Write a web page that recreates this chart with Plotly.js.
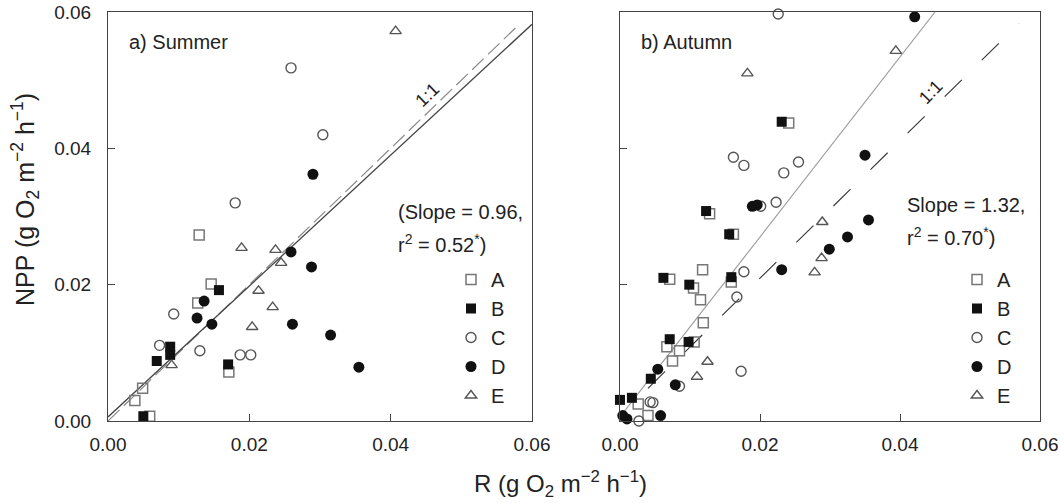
<!DOCTYPE html>
<html>
<head>
<meta charset="utf-8">
<script src="https://cdn.plot.ly/plotly-3.0.1.min.js"></script>
<style>html,body{margin:0;padding:0;background:#fff;}#chart{width:1060px;height:503px;}</style>
</head>
<body>
<div id="chart"></div>
<script>
// ---------- DATA ----------
const tickVals = [0, 0.02, 0.04, 0.06];
const tickLabels = ["0.00", "0.02", "0.04", "0.06"];
const groups = ["A", "B", "C", "D", "E"];

// Summer (panel a)
const sumAx = [0.0129, 0.0146, 0.0127, 0.0171, 0.0049, 0.0038, 0.0059];
const sumAy = [0.0273, 0.0201, 0.0173, 0.0072, 0.0048, 0.0030, 0.0007];
const sumBx = [0.0157, 0.0088, 0.0088, 0.0069, 0.0170, 0.0050];
const sumBy = [0.0192, 0.0109, 0.0097, 0.0088, 0.0083, 0.0007];
const sumCx = [0.0259, 0.0304, 0.0180, 0.0093, 0.0073, 0.0130, 0.0187, 0.0202];
const sumCy = [0.0518, 0.0420, 0.0320, 0.0157, 0.0111, 0.0103, 0.0097, 0.0097];
const sumDx = [0.0290, 0.0259, 0.0288, 0.0136, 0.0126, 0.0147, 0.0261, 0.0315, 0.0355];
const sumDy = [0.0362, 0.0248, 0.0226, 0.0176, 0.0151, 0.0142, 0.0142, 0.0126, 0.0079];
const sumEx = [0.0407, 0.0189, 0.0237, 0.0245, 0.0213, 0.0233, 0.0204, 0.0090];
const sumEy = [0.0572, 0.0254, 0.0251, 0.0232, 0.0191, 0.0167, 0.0138, 0.0082];

// Autumn (panel b)
const autAx = [0.0241, 0.0128, 0.0162, 0.0118, 0.0159, 0.0071, 0.0105, 0.0115, 0.0119, 0.0106, 0.0067, 0.0085, 0.0075, 0.0040, 0.0026];
const autAy = [0.0437, 0.0304, 0.0274, 0.0222, 0.0204, 0.0208, 0.0195, 0.0178, 0.0144, 0.0116, 0.0109, 0.0103, 0.0088, 0.0008, 0.0025];
const autBx = [0.0231, 0.0123, 0.0156, 0.0159, 0.0062, 0.0099, 0.0098, 0.0071, 0.0044, 0.0000, 0.0017];
const autBy = [0.0439, 0.0308, 0.0274, 0.0211, 0.0210, 0.0200, 0.0116, 0.0120, 0.0062, 0.0031, 0.0034];
const autCx = [0.0226, 0.0162, 0.0177, 0.0255, 0.0234, 0.0223, 0.0201, 0.0177, 0.0167, 0.0173, 0.0085, 0.0043, 0.0047, 0.0027];
const autCy = [0.0597, 0.0387, 0.0375, 0.0380, 0.0364, 0.0321, 0.0315, 0.0219, 0.0182, 0.0073, 0.0051, 0.0028, 0.0027, 0.0000];
const autDx = [0.0421, 0.0350, 0.0189, 0.0196, 0.0355, 0.0325, 0.0299, 0.0231, 0.0054, 0.0079, 0.0058, 0.0010, 0.0004];
const autDy = [0.0593, 0.0390, 0.0315, 0.0317, 0.0295, 0.0270, 0.0252, 0.0222, 0.0076, 0.0053, 0.0008, 0.0003, 0.0008];
const autEx = [0.0182, 0.0394, 0.0289, 0.0288, 0.0278, 0.0125, 0.0110];
const autEy = [0.0510, 0.0543, 0.0292, 0.0239, 0.0218, 0.0087, 0.0065];

// Fit and 1:1 line end points
const sumFitX = [0, 0.06];
const sumFitY = [0.0006, 0.0582];
const sumOneX = [0, 0.0578];
const sumOneY = [0, 0.0578];
const autFitX = [0, 0.045];
const autFitY = [0.0006, 0.060];
const autOneX = [0.004, 0.057];
const autOneY = [0.0048, 0.0583];

// ---------- STYLE ----------
const FONT = "Liberation Sans, Arial, Helvetica, sans-serif";
const styles = {
  A: {symbol: "square-open", color: "#777", size: 10, lw: 1.5},
  B: {symbol: "square", color: "#111", size: 10, lw: 0},
  C: {symbol: "circle-open", color: "#555", size: 10, lw: 1.4},
  D: {symbol: "circle", color: "#111", size: 11, lw: 0},
  E: {symbol: "triangle-up-open", color: "#555", size: 10, lw: 1.4}
};

const sumData = {A: [sumAx, sumAy], B: [sumBx, sumBy], C: [sumCx, sumCy], D: [sumDx, sumDy], E: [sumEx, sumEy]};
const autData = {A: [autAx, autAy], B: [autBx, autBy], C: [autCx, autCy], D: [autDx, autDy], E: [autEx, autEy]};

const traces = [];
// lines
traces.push({x: sumOneX, y: sumOneY, xaxis: "x", yaxis: "y", mode: "lines", showlegend: false, hoverinfo: "skip",
  line: {color: "#888", width: 1.2, dash: "16px,6px"}});
traces.push({x: sumFitX, y: sumFitY, xaxis: "x", yaxis: "y", mode: "lines", showlegend: false, hoverinfo: "skip",
  line: {color: "#444", width: 1.3}});
traces.push({x: autFitX, y: autFitY, xaxis: "x2", yaxis: "y2", mode: "lines", showlegend: false, hoverinfo: "skip",
  line: {color: "#999", width: 1.1}});
traces.push({x: autOneX, y: autOneY, xaxis: "x2", yaxis: "y2", mode: "lines", showlegend: false, hoverinfo: "skip",
  line: {color: "#333", width: 1.1, dash: "24px,28px"}});

function addGroup(data, xa, ya, leg) {
  groups.forEach(g => {
    const s = styles[g];
    traces.push({
      x: data[g][0], y: data[g][1], xaxis: xa, yaxis: ya, name: g, legend: leg,
      mode: "markers", type: "scatter", cliponaxis: false,
      marker: {symbol: s.symbol, size: s.size, color: s.color, line: {color: s.color, width: s.lw}}
    });
  });
}
addGroup(sumData, "x", "y", "legend");
addGroup(autData, "x2", "y2", "legend2");

const axBase = {
  range: [0, 0.06], tickvals: tickVals, ticktext: tickLabels, ticks: "inside", ticklen: 7,
  tickcolor: "#444", showline: true, mirror: true, linecolor: "#444", linewidth: 1,
  showgrid: false, zeroline: false, tickfont: {family: FONT, size: 19, color: "#222"}
};
const yDom = [82 / 503, 491 / 503];

const legBase = {
  font: {family: FONT, size: 20, color: "#222"}, bgcolor: "rgba(0,0,0,0)",
  xanchor: "left", yanchor: "top", itemclick: false, tracegroupgap: 0
};

const annFont = {family: FONT, size: 20, color: "#222"};
const layout = {
  width: 1060, height: 503,
  margin: {l: 0, r: 0, t: 0, b: 0},
  paper_bgcolor: "#fff", plot_bgcolor: "#fff",
  xaxis: Object.assign({}, axBase, {domain: [108 / 1060, 532 / 1060], anchor: "y", ticklabelstandoff: 6}),
  yaxis: Object.assign({}, axBase, {domain: yDom, anchor: "x", ticklabelstandoff: 12}),
  xaxis2: Object.assign({}, axBase, {domain: [620 / 1060, 1040 / 1060], anchor: "y2", ticklabelstandoff: 6}),
  yaxis2: Object.assign({}, axBase, {domain: yDom, anchor: "x2", showticklabels: false}),
  legend: Object.assign({}, legBase, {x: 451 / 1060, y: (503 - 260) / 503}),
  legend2: Object.assign({}, legBase, {x: 957 / 1060, y: (503 - 260) / 503}),
  annotations: [
    {xref: "x", yref: "y", x: 0.0027, y: 0.0556, text: "a) Summer", showarrow: false, xanchor: "left", yanchor: "middle", font: annFont},
    {xref: "x2", yref: "y2", x: 0.0027, y: 0.0556, text: "b) Autumn", showarrow: false, xanchor: "left", yanchor: "middle", font: annFont},
    {xref: "x", yref: "y", x: 0.0408, y: 0.0307, text: "(Slope = 0.96,", showarrow: false, xanchor: "left", yanchor: "middle", font: annFont},
    {xref: "x", yref: "y", x: 0.0408, y: 0.0260, text: "r<sup>2</sup> = 0.52<sup>*</sup>)", showarrow: false, xanchor: "left", yanchor: "middle", font: annFont},
    {xref: "x2", yref: "y2", x: 0.0407, y: 0.0317, text: "Slope = 1.32,", showarrow: false, xanchor: "left", yanchor: "middle", font: annFont},
    {xref: "x2", yref: "y2", x: 0.0407, y: 0.0270, text: "r<sup>2</sup> = 0.70<sup>*</sup>)", showarrow: false, xanchor: "left", yanchor: "middle", font: annFont},
    {xref: "x", yref: "y", x: 0.0452, y: 0.0478, text: "1:1", showarrow: false, textangle: -44, font: {family: FONT, size: 18, color: "#222"}},
    {xref: "x2", yref: "y2", x: 0.0444, y: 0.0483, text: "1:1", showarrow: false, textangle: -46, font: {family: FONT, size: 18, color: "#222"}},
    {xref: "paper", yref: "paper", x: 560 / 1060, y: (503 - 484) / 503, text: "R (g O<sub>2</sub> m<sup>\u22122</sup> h<sup>\u22121</sup>)", showarrow: false, xanchor: "center", yanchor: "middle", font: {family: FONT, size: 24, color: "#222"}},
    {xref: "paper", yref: "paper", x: 25 / 1060, y: (503 - 200) / 503, text: "NPP (g O<sub>2</sub> m<sup>\u22122</sup> h<sup>\u22121</sup>)", showarrow: false, textangle: -90, xanchor: "center", yanchor: "middle", font: {family: FONT, size: 25, color: "#222"}}
  ]
};

Plotly.newPlot("chart", traces, layout, {staticPlot: true, displayModeBar: false});
</script>
</body>
</html>
